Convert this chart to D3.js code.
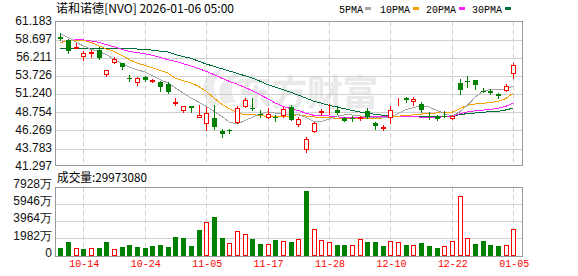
<!DOCTYPE html>
<html>
<head>
<meta charset="utf-8">
<script src="https://cdn.jsdelivr.net/npm/d3@7"></script>
<style>
  body { margin: 0; background: #fff; }
  svg { display: block; }
</style>
</head>
<body>
<div id="chart"></div>
<script>
// trading days shown in the chart
const dates = ['10-09','10-10','10-13','10-14','10-15','10-16','10-17','10-20','10-21','10-22','10-23','10-24',
  '10-27','10-28','10-29','10-30','10-31','11-03','11-04','11-05','11-06','11-07','11-10','11-11','11-12',
  '11-13','11-14','11-17','11-18','11-19','11-20','11-21','11-24','11-25','11-26','11-28','12-01','12-02',
  '12-03','12-04','12-05','12-08','12-09','12-10','12-11','12-12','12-15','12-16','12-17','12-18','12-19',
  '12-22','12-23','12-24','12-26','12-29','12-30','12-31','01-02','01-05'];

const opens = [59.04,58.67,57.60,56.49,56.85,57.26,54.03,55.62,55.45,53.47,52.85,53.58,53.03,52.85,52.66,50.08,
  49.07,49.57,48.16,47.25,47.98,46.20,46.34,47.38,49.66,49.34,48.55,48.07,48.10,48.34,49.44,47.16,43.74,46.24,
  48.80,49.45,49.07,47.98,47.93,48.03,48.89,47.29,46.66,48.11,50.38,50.71,50.25,49.89,48.29,48.25,48.27,48.02,
  52.71,53.02,53.17,51.68,51.70,51.26,51.84,54.16];
const highs = [59.59,58.81,58.20,57.09,57.22,57.63,54.55,56.31,55.53,53.81,53.62,53.75,53.34,52.99,52.89,50.71,
  49.60,49.62,49.79,49.44,49.71,46.43,46.47,49.57,50.71,50.71,49.03,49.34,48.43,49.44,49.71,48.07,45.42,47.43,
  49.20,49.85,49.57,48.11,48.20,48.29,49.34,47.40,47.06,49.57,50.71,50.84,50.84,50.16,48.80,48.43,48.89,48.35,
  53.30,53.67,53.20,52.07,51.94,51.43,52.66,55.49];
const lows = [58.67,56.90,57.58,55.94,56.27,56.08,53.75,55.45,54.71,53.07,52.53,53.07,52.85,51.71,51.39,49.71,
  48.75,48.75,48.10,46.38,46.52,45.42,45.93,47.25,49.44,49.11,48.07,47.98,47.52,48.16,47.70,46.93,43.33,46.06,
  48.43,48.52,48.52,47.56,47.52,47.75,47.98,46.47,46.29,47.29,49.79,50.16,49.79,48.75,47.88,47.75,48.16,47.80,
  51.26,52.25,51.90,51.53,51.26,50.71,51.62,53.44];
const closes = [58.81,57.10,57.65,56.85,56.99,56.17,54.49,55.99,54.94,53.42,53.40,53.17,53.10,52.25,51.53,50.15,
  49.57,49.30,48.39,48.66,46.71,45.83,46.16,49.34,50.43,49.27,48.50,48.57,48.05,49.20,47.75,47.84,45.11,47.25,
  48.87,49.52,48.62,47.61,47.85,48.09,48.07,46.88,46.72,49.11,50.45,50.39,50.61,49.11,48.07,47.88,48.22,48.29,
  51.85,52.96,52.53,51.64,51.43,50.98,52.39,55.17];

// volume, in 万 shares
const volumes = [902,1555,826,749,826,864,1555,710,979,1210,1018,902,1094,1210,1018,2170,2054,1110,2938,3825,
  4470,2054,1405,2822,2477,1901,1325,1325,1786,1670,1593,1901,7430,3053,1786,1517,1210,1210,1210,1901,1555,
  1555,1133,1670,1517,1210,1210,1440,1133,902,1094,1670,6854,2016,1325,1670,1210,1133,1210,2997.308];

// moving averages
const ma5 = [59.45,58.99,58.36,57.81,57.35,57.08,56.63,56.03,55.40,54.94,54.58,54.26,53.76,53.21,52.76,52.08,
  51.39,50.71,50.16,49.57,48.89,48.21,47.43,47.16,47.61,48.07,48.52,48.80,48.66,48.52,48.43,48.43,48.07,47.52,
  47.48,47.84,48.21,48.39,48.39,48.25,48.07,47.98,48.00,48.16,48.57,49.12,49.40,49.66,49.48,49.03,48.57,48.25,
  48.80,49.71,50.80,51.62,51.89,51.89,51.94,52.30];
const ma10 = [58.31,58.45,58.58,58.58,58.30,57.85,57.40,57.08,56.54,55.94,55.49,55.17,54.81,54.49,54.12,53.40,
  53.08,52.76,52.30,51.62,50.71,49.89,49.25,48.75,48.43,48.43,48.34,48.16,48.16,48.16,48.25,48.43,48.25,48.12,
  48.07,48.03,47.93,47.84,47.84,47.88,47.88,47.88,47.98,48.07,48.21,48.34,48.40,48.50,48.62,48.66,48.66,48.75,
  49.25,49.70,49.89,49.98,50.07,50.25,50.62,51.40];
const ma20 = [58.30,58.53,58.65,58.65,58.50,58.30,58.00,57.70,57.35,57.08,56.90,56.76,56.54,56.26,55.94,55.72,
  55.40,55.08,54.72,54.35,53.90,53.44,52.99,52.62,52.17,51.71,51.17,50.62,50.03,49.57,49.25,49.00,48.62,48.34,
  48.30,48.25,48.16,47.98,48.03,48.07,48.12,48.12,48.12,48.12,48.12,48.12,48.14,48.10,48.10,48.10,48.12,48.16,
  48.55,48.80,48.95,49.05,49.15,49.30,49.55,50.05];
const ma30 = [57.40,57.40,57.40,57.40,57.40,57.40,57.40,57.40,57.40,57.40,57.40,57.31,57.25,57.10,57.00,56.63,
  56.38,56.13,55.75,55.35,55.03,54.71,54.40,54.08,53.76,53.44,53.00,52.53,52.20,51.85,51.50,51.10,50.70,50.26,
  50.00,49.71,49.48,49.25,49.00,48.80,48.62,48.48,48.36,48.25,48.22,48.20,48.18,48.15,48.15,48.15,48.15,48.15,
  48.43,48.57,48.66,48.75,48.84,48.89,49.07,49.34];

const priceTicks = [61.183,58.697,56.211,53.726,51.240,48.754,46.269,43.783,41.297];
const volTicks = [0,1982,3964,5946,7928];
const dateTicks = ['10-14','10-24','11-05','11-17','11-28','12-10','12-22','01-05'];

const W = 578, H = 276;
const left = 55, right = 522;
const pTop = 21.3, pBottom = 165;
const vTop = 186.7, vBottom = 255.5;
const UP = '#ff0000', DOWN = '#008000';
const GRID = '#d0d0d0', FRAME = '#999';

const svg = d3.select('#chart').append('svg')
    .attr('width', W)
    .attr('height', H)
    .style('font-family', '"Liberation Sans", Arial, sans-serif');

const x = d3.scaleLinear().domain([0, dates.length - 1]).range([60.3, 513.3]);
const y = d3.scaleLinear().domain([41.297, 61.183]).range([166.9, pTop]);
const yv = d3.scaleLinear().domain([0, 7928]).range([vBottom, vTop]);

const px = i => Math.round(x(i));
const crisp = v => Math.round(v) + 0.5;

// title and legend
svg.append('text')
    .attr('x', 56).attr('y', 12.5)
    .attr('font-family', '"Noto Sans CJK SC", sans-serif')
    .attr('font-size', 12)
    .attr('fill', '#000')
    .attr('textLength', 178).attr('lengthAdjust', 'spacingAndGlyphs')
    .text('诺和诺德[NVO] 2026-01-06 05:00');

const legend = [
  { name: '5PMA', color: '#a6a6a6', tx: 339, sx: 365 },
  { name: '10PMA', color: '#f5a000', tx: 380, sx: 413 },
  { name: '20PMA', color: '#ff22ff', tx: 426, sx: 459 },
  { name: '30PMA', color: '#00703a', tx: 472, sx: 505 }
];
legend.forEach(l => {
  svg.append('text')
      .attr('x', l.tx).attr('y', 12.5)
      .attr('font-family', '"Liberation Mono", monospace')
      .attr('font-size', 11.5)
      .attr('textLength', l.name.length * 6).attr('lengthAdjust', 'spacingAndGlyphs')
      .attr('fill', '#000')
      .text(l.name);
  svg.append('rect')
      .attr('x', l.sx).attr('y', 7).attr('width', 6).attr('height', 3)
      .attr('fill', l.color);
});

// watermark
const wm = svg.append('g').attr('fill', '#e9e9e9').attr('stroke', 'none');
wm.append('path')
    .attr('d', 'M214,108 C196,96 200,74 226,66 C212,78 210,92 222,104 Z M224,104 C214,92 220,78 238,72 C230,84 230,94 236,102 Z')
    .attr('fill', '#ececec');
wm.append('text')
    .attr('x', 236).attr('y', 106)
    .attr('font-family', '"Noto Sans CJK SC", sans-serif')
    .attr('font-size', 36)
    .attr('font-weight', 'bold')
    .attr('textLength', 142).attr('lengthAdjust', 'spacingAndGlyphs')
    .text('东方财富');

// grid lines
const gridG = svg.append('g');
priceTicks.slice(1, -1).forEach(t => {
  gridG.append('line')
      .attr('x1', left).attr('x2', right)
      .attr('y1', crisp(y(t))).attr('y2', crisp(y(t)))
      .attr('stroke', GRID);
});
volTicks.slice(1, -1).forEach(t => {
  gridG.append('line')
      .attr('x1', left).attr('x2', right)
      .attr('y1', crisp(yv(t))).attr('y2', crisp(yv(t)))
      .attr('stroke', GRID);
});
const tickIdx = dateTicks.map(d => dates.indexOf(d));
tickIdx.forEach(i => {
  [[pTop, pBottom], [vTop, vBottom]].forEach(([a, b]) => {
    gridG.append('line')
        .attr('x1', px(i) + 0.5).attr('x2', px(i) + 0.5)
        .attr('y1', a).attr('y2', b)
        .attr('stroke', '#cfcfcf')
        .attr('stroke-dasharray', '5,3');
  });
});

// moving average lines
svg.append('clipPath').attr('id', 'pclip')
  .append('rect').attr('x', left).attr('y', pTop).attr('width', right - left).attr('height', pBottom - pTop);
const maG = svg.append('g').attr('clip-path', 'url(#pclip)');
const line = d3.line().x((d, i) => x(i)).y(d => y(d));
[[ma30, legend[3].color], [ma20, legend[2].color], [ma10, legend[1].color], [ma5, legend[0].color]].forEach(([s, c]) => {
  maG.append('path')
      .attr('d', line(s))
      .attr('fill', 'none')
      .attr('stroke', c)
      .attr('stroke-width', 1)
      .attr('shape-rendering', 'crispEdges');
});

// candles
const candles = svg.append('g').selectAll('g')
  .data(dates.map((d, i) => ({ i, o: opens[i], h: highs[i], l: lows[i], c: closes[i] })))
  .join('g');

candles.append('line')
    .attr('x1', d => px(d.i) + 0.5).attr('x2', d => px(d.i) + 0.5)
    .attr('y1', d => Math.round(y(d.h))).attr('y2', d => Math.round(y(d.l)) + 1)
    .attr('stroke', d => d.c > d.o ? UP : DOWN);

candles.append('rect')
    .attr('x', d => d.c > d.o ? px(d.i) - 1.5 : px(d.i) - 2)
    .attr('y', d => {
      const t = Math.round(y(Math.max(d.o, d.c)));
      return d.c > d.o ? t + 0.5 : t;
    })
    .attr('width', d => d.c > d.o ? 4 : 5)
    .attr('height', d => {
      const hgt = Math.round(y(Math.min(d.o, d.c))) - Math.round(y(Math.max(d.o, d.c)));
      return d.c > d.o ? Math.max(0, hgt) : Math.max(1, hgt);
    })
    .attr('fill', d => d.c > d.o ? '#fff' : DOWN)
    .attr('stroke', d => d.c > d.o ? UP : 'none');

// volume bars (colour by change against the previous close)
const volUp = (i) => i === 0 ? closes[i] >= opens[i] : closes[i] >= closes[i - 1];
svg.append('g').selectAll('rect')
  .data(volumes)
  .join('rect')
    .attr('x', (v, i) => volUp(i) ? px(i) - 1.5 : px(i) - 2)
    .attr('y', (v, i) => volUp(i) ? Math.round(yv(v)) + 0.5 : Math.round(yv(v)))
    .attr('width', (v, i) => volUp(i) ? 4 : 5)
    .attr('height', (v, i) => volUp(i) ? Math.round(vBottom) - Math.round(yv(v)) - 1 : Math.round(vBottom) - Math.round(yv(v)))
    .attr('fill', (v, i) => volUp(i) ? '#fff' : DOWN)
    .attr('stroke', (v, i) => volUp(i) ? UP : 'none');

// frames
svg.append('rect')
    .attr('x', left + 0.5).attr('y', Math.round(pTop) + 0.5)
    .attr('width', right - left).attr('height', Math.round(pBottom) - Math.round(pTop))
    .attr('fill', 'none').attr('stroke', FRAME);
svg.append('rect')
    .attr('x', left + 0.5).attr('y', Math.round(vTop) + 0.5)
    .attr('width', right - left).attr('height', Math.round(vBottom) - Math.round(vTop))
    .attr('fill', 'none').attr('stroke', FRAME);

// axes
const pAxis = svg.append('g')
    .attr('transform', `translate(${left - 1},-1)`)
    .call(d3.axisLeft(y).tickValues(priceTicks).tickSize(0).tickPadding(2).tickFormat(d3.format('.3f')));
pAxis.select('.domain').remove();
pAxis.selectAll('text').attr('font-size', 12).attr('fill', '#111').attr('font-family', '"Liberation Sans", Arial, sans-serif');

const vAxis = svg.append('g')
    .attr('transform', `translate(${left - 1},-3)`)
    .call(d3.axisLeft(yv).tickValues(volTicks).tickSize(0).tickPadding(2)
      .tickFormat(d => d === 0 ? '0' : d + '万'));
vAxis.select('.domain').remove();
vAxis.selectAll('text').attr('font-size', 12).attr('fill', '#111').attr('font-family', '"Liberation Sans", Arial, sans-serif');

const xAxis = svg.append('g')
    .attr('transform', `translate(0.5,${vBottom + 3})`)
    .call(d3.axisBottom(x).tickValues(tickIdx).tickSize(0).tickPadding(0).tickFormat(i => dates[i]));
xAxis.select('.domain').remove();
xAxis.selectAll('text')
    .attr('font-size', 11.5)
    .attr('font-family', '"Liberation Mono", monospace')
    .attr('textLength', 30).attr('lengthAdjust', 'spacingAndGlyphs')
    .attr('fill', '#ff0000');

// volume caption
svg.append('text')
    .attr('x', 57).attr('y', 182)
    .attr('font-family', '"Noto Sans CJK SC", sans-serif')
    .attr('font-size', 12)
    .attr('fill', '#000')
    .attr('textLength', 90).attr('lengthAdjust', 'spacingAndGlyphs')
    .text('成交量:' + Math.round(volumes[volumes.length - 1] * 10000));
</script>
</body>
</html>
